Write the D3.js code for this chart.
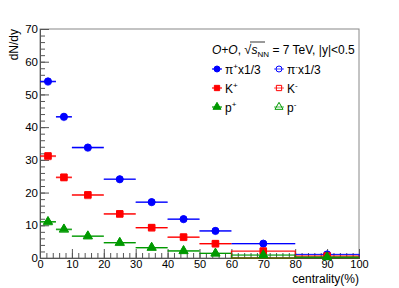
<!DOCTYPE html>
<html><head><meta charset="utf-8">
<script src="https://cdn.jsdelivr.net/npm/d3@7"></script>
<style>body{margin:0;background:#fff}svg{display:block}text{font-family:"Liberation Sans",Arial,sans-serif}</style>
</head><body>
<svg id="c" width="399" height="288"></svg>
<script>
const binLo = [0, 5, 10, 20, 30, 40, 50, 60, 80];
const binHi = [5, 10, 20, 30, 40, 50, 60, 80, 100];
const piPlus  = [54.0, 43.2, 33.8, 24.1, 17.1, 11.9, 8.3, 4.4, 1.1];
const piMinus = [53.8, 43.0, 33.6, 24.0, 17.0, 11.8, 8.2, 4.4, 1.1];
const kPlus   = [31.2, 24.7, 19.3, 13.5, 9.3, 6.4, 4.4, 2.1, 0.6];
const kMinus  = [31.0, 24.5, 19.1, 13.4, 9.2, 6.3, 4.3, 2.1, 0.6];
const pPlus   = [11.1, 8.8, 6.7, 4.7, 3.2, 2.2, 1.4, 0.9, 0.3];
const pMinus  = [10.9, 8.6, 6.6, 4.6, 3.1, 2.1, 1.4, 0.9, 0.3];
const xTicks = [0, 10, 20, 30, 40, 50, 60, 70, 80, 90, 100];
const yTicks = [0, 10, 20, 30, 40, 50, 60, 70];

const svg = d3.select("#c");
const x = d3.scaleLinear().domain([0, 100]).range([40, 359]);
const y = d3.scaleLinear().domain([0, 70]).range([258, 29]);

// frame
svg.append("rect").attr("x", 40).attr("y", 29).attr("width", 319).attr("height", 229)
  .attr("fill", "none").attr("stroke", "#888").attr("stroke-width", 1);

// axes
const minorX = d3.range(0, 101, 2);
const minorY = d3.range(0, 71, 2);
const gx = svg.append("g").attr("transform", "translate(0,258)");
gx.call(d3.axisBottom(x).tickValues(minorX).tickSize(-5).tickFormat(""));
gx.selectAll(".tick line").attr("stroke", "#555");
const gx2 = svg.append("g").attr("transform", "translate(0,258)");
gx2.call(d3.axisBottom(x).tickValues(xTicks).tickSize(-9).tickPadding(2).tickFormat(d3.format("d")));
[gx, gx2].forEach(g => g.select(".domain").attr("stroke", "#555"));
gx2.selectAll(".tick line").attr("stroke", "#555");
gx2.selectAll("text").attr("font-size", 11).attr("fill", "#000").attr("font-family", "Liberation Sans, Arial, sans-serif");

const gy = svg.append("g").attr("transform", "translate(40,0)");
gy.call(d3.axisLeft(y).tickValues(minorY).tickSize(-5).tickFormat(""));
gy.selectAll(".tick line").attr("stroke", "#555");
const gy2 = svg.append("g").attr("transform", "translate(40,0)");
gy2.call(d3.axisLeft(y).tickValues(yTicks).tickSize(-9).tickPadding(2).tickFormat(d3.format("d")));
[gy, gy2].forEach(g => g.select(".domain").attr("stroke", "#555"));
gy2.selectAll(".tick line").attr("stroke", "#555");
gy2.selectAll("text").attr("font-size", 11.5).attr("fill", "#000").attr("font-family", "Liberation Sans, Arial, sans-serif");

// titles
svg.append("text").attr("x", 359).attr("y", 283).attr("text-anchor", "end")
  .attr("font-size", 12).text("centrality(%)");
svg.append("text").attr("transform", "translate(18,29) rotate(-90)").attr("text-anchor", "end")
  .attr("font-size", 12).text("dN/dy");

const blue = "#0000ff", red = "#ff0000", green = "#009900";
const series = [
  {vals: piMinus, color: blue, shape: "circle", open: true, box: [8]},
  {vals: kMinus, color: red, shape: "square", open: true, box: [7, 8]},
  {vals: pMinus, color: green, shape: "triangle", open: true, box: [7, 8]},
  {vals: piPlus, color: blue, shape: "circle", open: false, box: [8]},
  {vals: kPlus, color: red, shape: "square", open: false, box: [7, 8]},
  {vals: pPlus, color: green, shape: "triangle", open: false, box: [7, 8]}
];
const sym = {circle: d3.symbolCircle, square: d3.symbolSquare, triangle: d3.symbolTriangle};
const symSize = {circle: 38, square: 42, triangle: 36};

series.forEach(s => {
  const g = svg.append("g");
  s.vals.forEach((v, i) => {
    if (s.box.includes(i)) {
      g.append("rect").attr("x", x(binLo[i])).attr("y", y(v))
        .attr("width", x(binHi[i]) - x(binLo[i])).attr("height", y(0) - y(v))
        .attr("fill", "none").attr("stroke", s.color).attr("stroke-width", 1)
        .attr("stroke-opacity", s.open ? 0.45 : 0.9);
    } else {
      g.append("line").attr("x1", x(binLo[i])).attr("x2", x(binHi[i]))
        .attr("y1", y(v)).attr("y2", y(v))
        .attr("stroke", s.color).attr("stroke-width", 1.2)
        .attr("stroke-opacity", s.open ? 0.45 : 1);
    }
    const cx = x((binLo[i] + binHi[i]) / 2);
    g.append("path").attr("d", d3.symbol().type(sym[s.shape]).size(symSize[s.shape])())
      .attr("transform", `translate(${cx},${y(v)})`)
      .attr("fill", s.open ? "none" : s.color)
      .attr("stroke", s.color).attr("stroke-opacity", s.open ? 0.5 : 1).attr("stroke-width", 1);
  });
});

// legend
const lt = svg.append("text").attr("x", 212).attr("y", 54).attr("font-size", 12);
lt.append("tspan").attr("font-style", "italic").text("O+O");
lt.append("tspan").text(", ");
lt.append("tspan").attr("font-size", 13).text("√");
lt.append("tspan").attr("font-style", "italic").text("s");
lt.append("tspan").attr("font-size", 8).attr("dy", 3).text("NN");
lt.append("tspan").attr("dy", -3).text(" = 7 TeV, |y|<0.5");
svg.append("line").attr("x1", 250).attr("x2", 265).attr("y1", 42).attr("y2", 42).attr("stroke", "#000").attr("stroke-width", 0.8);

const legendItems = [
  {label: "π", sup: "+", tail: "x1/3", color: blue, shape: "circle", open: false, col: 0, row: 0},
  {label: "π", sup: "-", tail: "x1/3", color: blue, shape: "circle", open: true, col: 1, row: 0},
  {label: "K", sup: "+", tail: "", color: red, shape: "square", open: false, col: 0, row: 1},
  {label: "K", sup: "-", tail: "", color: red, shape: "square", open: true, col: 1, row: 1},
  {label: "p", sup: "+", tail: "", color: green, shape: "triangle", open: false, col: 0, row: 2},
  {label: "p", sup: "-", tail: "", color: green, shape: "triangle", open: true, col: 1, row: 2}
];
const colX = [217, 279], rowY = [69, 88, 107];
legendItems.forEach(it => {
  const mx = colX[it.col], my = rowY[it.row];
  svg.append("line").attr("x1", mx - 5).attr("x2", mx + 5).attr("y1", my).attr("y2", my)
    .attr("stroke", it.color).attr("stroke-width", 1.2).attr("stroke-opacity", it.open ? 0.6 : 1);
  svg.append("path").attr("d", d3.symbol().type(sym[it.shape]).size(28)())
    .attr("transform", `translate(${mx},${my})`)
    .attr("fill", it.open ? "none" : it.color).attr("stroke", it.color).attr("stroke-width", 1);
  const t = svg.append("text").attr("x", mx + 8).attr("y", my + 4.5).attr("font-size", 12);
  t.append("tspan").text(it.label);
  t.append("tspan").attr("font-size", 8).attr("dy", -5).text(it.sup);
  if (it.tail) t.append("tspan").attr("dy", 5).text(it.tail);
});
</script>
</body></html>
